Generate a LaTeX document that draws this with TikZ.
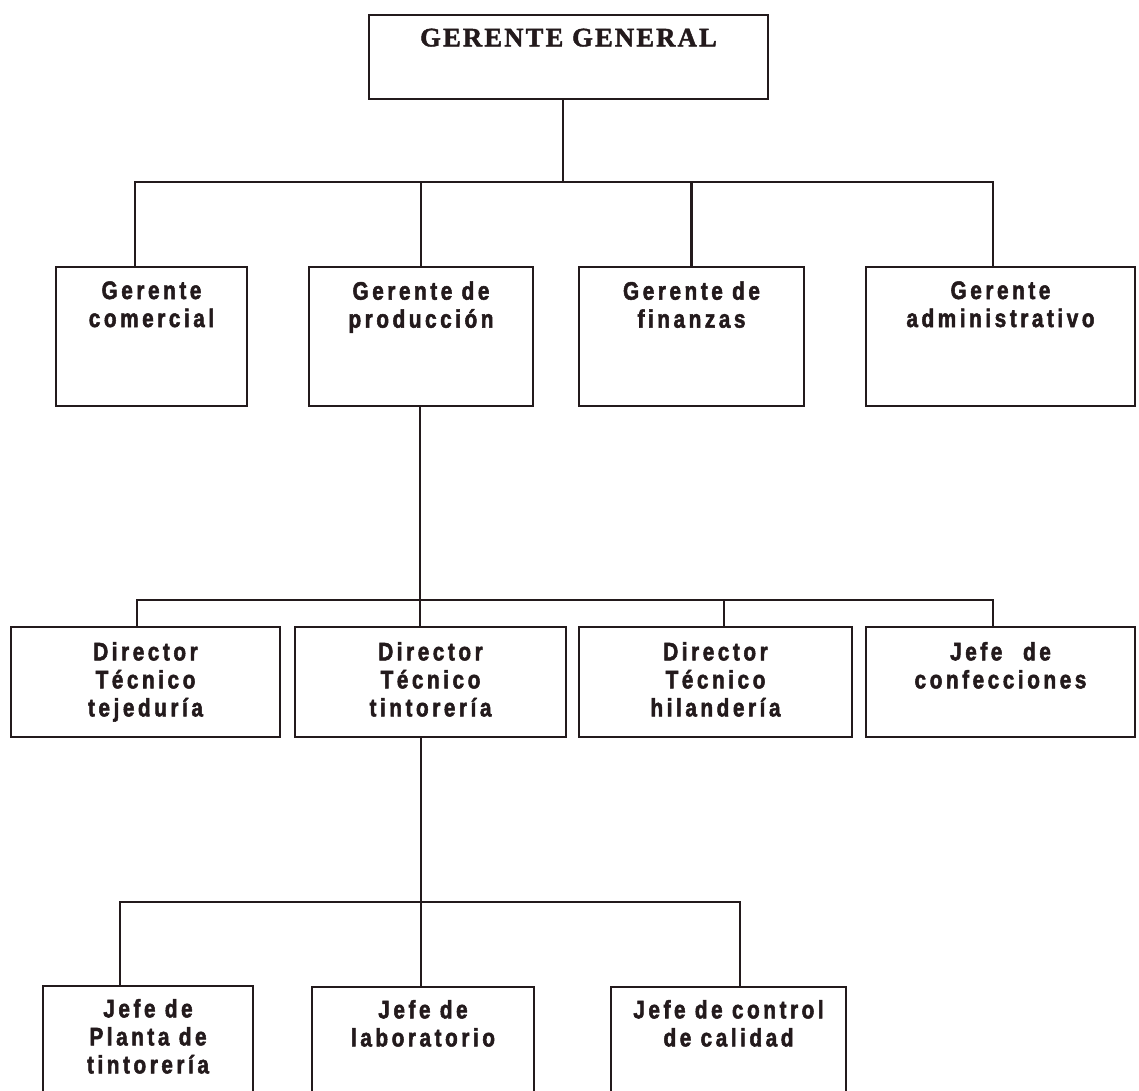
\documentclass[tikz,border=0pt]{standalone}
\usepackage{fontspec}
\setmainfont{Liberation Sans}
\newfontfamily\boxfont{Liberation Sans}[FakeStretch=0.82,LetterSpace=14,FakeBold=2]
\newfontfamily\topfont{Liberation Serif}[LetterSpace=8,FakeBold=1.6]
\usetikzlibrary{fit}
\definecolor{ink}{HTML}{231A1C}
\begin{document}
\begin{tikzpicture}[x=0.75pt,y=-0.75pt,
  box/.style={draw=ink, line width=1.9pt, inner sep=0pt},
  lbl/.style={font=\boxfont\bfseries\fontsize{19}{21}\selectfont, text=ink, align=center, anchor=north, inner sep=0pt},
  toplbl/.style={lbl, font=\topfont\bfseries\fontsize{20}{22}\selectfont},
  conn/.style={draw=ink, line width=1.9pt}]
\fill[white] (0,0) rectangle (1139,1090);
\clip (0,0) rectangle (1139,1090);

% top
\node[box, fit={(369,15) (768,99)}] (gg) {};
\node[toplbl] (ggT) at ([yshift=-11pt]gg.north) {GERENTE GENERAL};

% level 1
\node[box, fit={(56,267) (247,406)}] (b1) {};
\node[box, fit={(309,267) (533,406)}] (b2) {};
\node[box, fit={(579,267) (804,406)}] (b3) {};
\node[box, fit={(866,267) (1135,406)}] (b4) {};
\node[lbl] (b1T) at ([yshift=-11.5pt]b1.north) {Gerente\\comercial};
\node[lbl] (b2T) at ([yshift=-11.5pt]b2.north) {Gerente de\\producción};
\node[lbl] (b3T) at ([yshift=-11.5pt]b3.north) {Gerente de\\finanzas};
\node[lbl] (b4T) at ([yshift=-11.5pt]b4.north) {Gerente\\administrativo};

% level 2
\node[box, fit={(11,627) (280,737)}] (c1) {};
\node[box, fit={(295,627) (566,737)}] (c2) {};
\node[box, fit={(579,627) (852,737)}] (c3) {};
\node[box, fit={(866,627) (1135,737)}] (c4) {};
\node[lbl] (c1T) at ([yshift=-12pt]c1.north) {Director\\Técnico\\tejeduría};
\node[lbl] (c2T) at ([yshift=-12pt]c2.north) {Director\\Técnico\\tintorería};
\node[lbl] (c3T) at ([yshift=-12pt]c3.north) {Director\\Técnico\\hilandería};
\node[lbl] (c4T) at ([yshift=-12pt]c4.north) {Jefe\hspace{0.45em} de\\confecciones};

% level 3 (cut off by the page bottom)
\node[box, fit={(43,986) (253,1120)}] (d1) {};
\node[box, fit={(312,987) (534,1120)}] (d2) {};
\node[box, fit={(611,987) (846,1120)}] (d3) {};
\node[lbl] (d1T) at ([yshift=-10.5pt]d1.north) {Jefe de\\Planta de\\tintorería};
\node[lbl] (d2T) at ([yshift=-10.5pt]d2.north) {Jefe de\\laboratorio};
\node[lbl] (d3T) at ([yshift=-10.5pt]d3.north) {Jefe de control\\de calidad};

% junctions
\coordinate (j0) at (563,182);
\coordinate (h1l) at (135,182);
\coordinate (h1r) at (993,182);
\coordinate (h2l) at (137,600);
\coordinate (h2r) at (993,600);
\coordinate (h2c) at (420,600);
\coordinate (h2d) at (724,600);
\coordinate (h3l) at (120,902);
\coordinate (h3r) at (740,902);
\coordinate (h3c) at (421,902);

% connectors
\draw[conn] (gg.south -| j0) -- (j0);
\draw[conn] (b1.north -| h1l) -- (h1l) -- (h1r) -- (b4.north -| h1r);
\draw[conn] (b2.north |- h1l) -- (b2.north);
\draw[conn] (b3.north |- h1l) -- (b3.north);
\draw[conn] (b2.south -| h2c) -- (h2c);
\draw[conn] (c1.north -| h2l) -- (h2l) -- (h2r) -- (c4.north -| h2r);
\draw[conn] (h2c) -- (c2.north -| h2c);
\draw[conn] (h2d) -- (c3.north -| h2d);
\draw[conn] (c2.south -| h3c) -- (d2.north -| h3c);
\draw[conn] (d1.north -| h3l) -- (h3l) -- (h3r) -- (d3.north -| h3r);
\end{tikzpicture}
\end{document}
